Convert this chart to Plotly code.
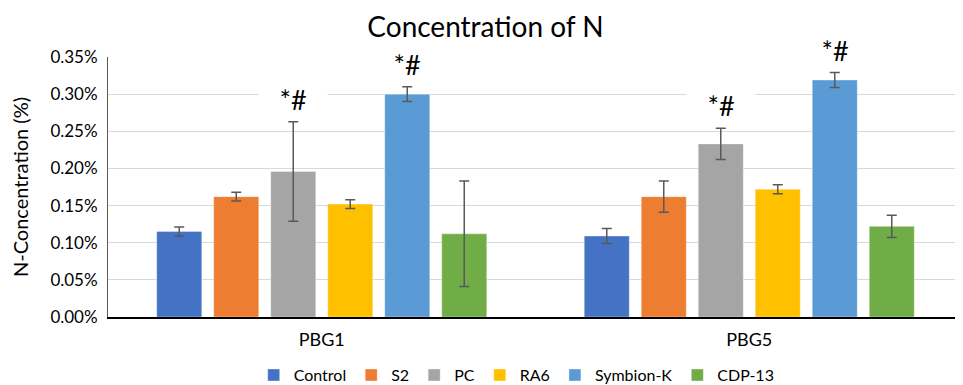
import plotly.graph_objects as go

categories = ["PBG1", "PBG5"]
series_names = ["Control", "S2", "PC", "RA6", "Symbion-K", "CDP-13"]
colors = ["#4472C4", "#ED7D31", "#A5A5A5", "#FFC000", "#5B9BD5", "#70AD47"]

control = [0.115, 0.109]
s2 = [0.162, 0.162]
pc = [0.196, 0.233]
ra6 = [0.152, 0.172]
symbion_k = [0.300, 0.319]
cdp13 = [0.112, 0.122]

control_err = [0.006, 0.010]
s2_err = [0.006, 0.021]
pc_err = [0.067, 0.021]
ra6_err = [0.006, 0.006]
symbion_k_err = [0.010, 0.010]
cdp13_err = [0.071, 0.015]

values = [control, s2, pc, ra6, symbion_k, cdp13]
errors = [control_err, s2_err, pc_err, ra6_err, symbion_k_err, cdp13_err]

# significance marks: (series index, category index)
sig_label = "*#"
sig_marks = [(2, 0), (4, 0), (2, 1), (4, 1)]

FONT = "Lato, Calibri, Carlito, sans-serif"
bargap = 0.2
bargroupgap = 0.21

fig = go.Figure()
for name, col, v, e in zip(series_names, colors, values, errors):
    fig.add_trace(go.Bar(
        name=name, x=categories, y=v, marker_color=col,
        marker_line=dict(color="rgba(255,255,255,0.35)", width=1),
        error_y=dict(type="data", array=e, visible=True, color="#595959",
                     thickness=1.5, width=5),
    ))

n = len(series_names)
slot = (1 - bargap) / n
for si, ci in sig_marks:
    xpos = ci + (si - (n - 1) / 2) * slot
    ytop = values[si][ci] + errors[si][ci]
    fig.add_annotation(
        x=xpos, y=ytop, xref="x", yref="y", text=sig_label, showarrow=False,
        yanchor="bottom", yshift=8, font=dict(family=FONT, size=27, color="#000000"),
        bgcolor="#FFFFFF", width=66, height=26,
    )

fig.update_layout(
    width=955, height=377,
    margin=dict(l=100, r=0, t=49, b=68, autoexpand=False),
    paper_bgcolor="#FFFFFF", plot_bgcolor="#FFFFFF",
    barmode="group", bargap=bargap, bargroupgap=bargroupgap,
    title=dict(text="Concentration of N", x=0.5, xanchor="center", y=0.95,
               yanchor="middle", font=dict(family=FONT, size=28, color="#000000")),
    font=dict(family=FONT, size=16, color="#000000"),
    legend=dict(orientation="h", x=0.478, xanchor="center", y=-0.158, yanchor="top",
                font=dict(family=FONT, size=16, color="#000000"),
                itemwidth=30, traceorder="normal"),
    showlegend=True,
)
fig.update_yaxes(
    range=[0, 0.35], dtick=0.05, tickformat=".2f", ticksuffix="%",
    showgrid=True, gridcolor="#D9D9D9", gridwidth=1,
    showline=True, linecolor="#595959", linewidth=1,
    tickfont=dict(family=FONT, size=17, color="#000000"),
    ticklabelstandoff=6,
    title=dict(text="N-Concentration (%)", font=dict(family=FONT, size=20, color="#000000"),
               standoff=29),
    zeroline=False, automargin=False,
)
fig.update_xaxes(
    showline=True, linecolor="#000000", linewidth=1.5,
    tickfont=dict(family=FONT, size=18, color="#000000"),
    ticklabelstandoff=6,
    showgrid=False, automargin=False,
)

fig.write_html("out.html")
